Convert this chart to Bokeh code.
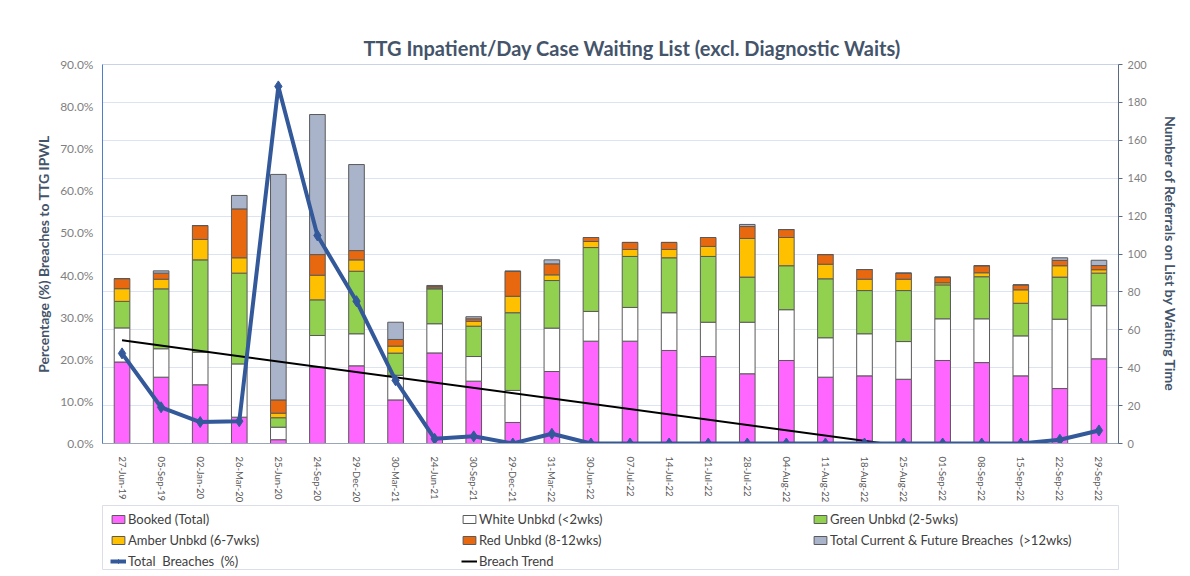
import math
from bokeh.plotting import figure
from bokeh.layouts import column
from bokeh.models import (Range1d, LinearAxis, SingleIntervalTicker, PrintfTickFormatter,
                          Legend, LegendItem, ColumnDataSource, FactorRange)
from bokeh.embed import file_html
from bokeh.resources import INLINE

dates = ["27-Jun-19", "05-Sep-19", "02-Jan-20", "26-Mar-20", "25-Jun-20", "24-Sep-20",
         "29-Dec-20", "30-Mar-21", "24-Jun-21", "30-Sep-21", "29-Dec-21", "31-Mar-22",
         "30-Jun-22", "07-Jul-22", "14-Jul-22", "21-Jul-22", "28-Jul-22", "04-Aug-22",
         "11-Aug-22", "18-Aug-22", "25-Aug-22", "01-Sep-22", "08-Sep-22", "15-Sep-22",
         "22-Sep-22", "29-Sep-22"]
booked = [43, 35, 31, 13.9, 2, 40.3, 41, 23, 47.8, 32.9, 11.1, 38, 54, 54, 49.1, 45.9,
          36.8, 43.8, 35, 35.7, 33.9, 43.8, 42.7, 35.7, 29, 44.7]
white = [18, 15, 17.2, 28.1, 6.6, 16.7, 16.9, 13, 15.4, 13, 16.9, 22.9, 15.7, 17.8, 19.9,
         18.1, 27.2, 26.8, 20.8, 22.2, 19.9, 22, 23.1, 21.1, 36.6, 28]
green = [14, 31.6, 48.7, 47.9, 5, 18.8, 33, 11.7, 18.4, 16, 41, 25.1, 33.7, 26.9, 29,
         34.7, 23.8, 23.2, 31.1, 22.8, 26.9, 17.9, 22.2, 17.2, 22.2, 17.2]
amber = [6.7, 5.1, 10.8, 8.1, 2.4, 13, 6, 3.7, 0.5, 2.6, 8.7, 3, 3.2, 3.7, 4.4, 5.3,
         20.4, 14.9, 7.7, 6, 6, 1.1, 2.1, 7.1, 6, 1.8]
red = [5.3, 3.2, 7.3, 25.8, 7, 10.9, 4.9, 3.5, 0.8, 1.3, 13.2, 5.8, 2.1, 3.7, 3.7, 4.7,
       6.3, 4.2, 5.1, 5.1, 3.2, 3.0, 3.7, 2.6, 2.8, 2.2]
grey = [0, 1.2, 0, 7.1, 119, 73.9, 45.4, 9.1, 0.5, 1.1, 0, 2.1, 0, 0, 0, 0,
        1.1, 0, 0, 0, 0, 0, 0, 0, 1.4, 2.8]
breach_pct = [21.4, 8.6, 5.1, 5.3, 84.8, 49.4, 33.8, 15.0, 1.1, 1.7, 0, 2.3, 0, 0, 0, 0,
              0, 0, 0, 0, 0, 0, 0, 0, 0.9, 3.1]
trend_x = [dates[0], dates[-1]]
trend_pct = [24.5, -6.9]

series = ["booked", "white", "green", "amber", "red", "grey"]
labels = ["Booked (Total)", "White Unbkd (<2wks)", "Green Unbkd (2-5wks)",
          "Amber Unbkd (6-7wks)", "Red Unbkd (8-12wks)",
          "Total Current & Future Breaches  (>12wks)"]
colors = ["#FF66FF", "#FFFFFF", "#92D050", "#FFC000", "#E8680F", "#A9B4CA"]

FONT = "Lato"
TXT = "#44546A"
BLUE = "#34599A"

src = ColumnDataSource(dict(dates=dates, booked=booked, white=white, green=green,
                            amber=amber, red=red, grey=grey, pct=breach_pct))


def draw(fig, **kw):
    b = fig.vbar_stack(series, x="dates", width=0.4, source=src, y_range_name="count",
                       fill_color=colors, line_color="#5a5a5a", line_width=1, **kw)
    t = fig.line(trend_x, trend_pct, line_color="black", line_width=2, **kw)
    l = fig.line("dates", "pct", source=src, line_color=BLUE, line_width=4, **kw)
    m = fig.scatter("dates", "pct", source=src, marker="diamond", size=11,
                    fill_color=BLUE, line_color=BLUE, **kw)
    return b, t, l, m


W = 1188
p = figure(x_range=FactorRange(*dates), y_range=Range1d(0, 90), width=W, height=505,
           output_backend="svg", toolbar_location=None,
           min_border_left=102, min_border_right=70, min_border_top=64, min_border_bottom=62)
p.extra_y_ranges = {"count": Range1d(0, 200)}

p.title.text = "TTG Inpatient/Day Case Waiting List (excl. Diagnostic Waits)"
p.title.align = "left"
p.title.offset = 261
p.title.text_font = FONT
p.title.text_font_size = "20px"
p.title.text_color = TXT

draw(p)

la = p.yaxis[0]
la.ticker = SingleIntervalTicker(interval=10)
la.formatter = PrintfTickFormatter(format="%.1f%%")
la.axis_label = "Percentage (%) Breaches to TTG IPWL"

ra = LinearAxis(y_range_name="count", ticker=SingleIntervalTicker(interval=20),
                axis_label="Number of Referrals on List by Waiting Time")
p.add_layout(ra, "right")

for ax in (la, ra):
    ax.axis_label_text_font = FONT
    ax.axis_label_text_font_size = "14px"
    ax.axis_label_text_font_style = "bold"
    ax.axis_label_text_color = TXT
    ax.major_label_text_font = FONT
    ax.major_label_text_color = "#7f7f7f"
    ax.minor_tick_line_color = None
    ax.major_tick_in = 0
    ax.major_tick_out = 4
la.major_label_text_font_size = "12px"
ra.major_label_text_font_size = "11px"
la.axis_line_color = "#4F7EC8"
la.major_tick_line_color = None
ra.axis_line_color = "#5a6a85"
ra.major_tick_line_color = "#5a6a85"
ra.axis_label_standoff = 12

xa = p.xaxis[0]
xa.major_label_orientation = -math.pi / 2
xa.major_label_text_font = FONT
xa.major_label_text_font_size = "9.5px"
xa.major_label_text_color = "#595959"
xa.major_tick_line_color = None
xa.axis_line_color = "#9aa5b8"
xa.major_label_standoff = 7

p.xgrid.grid_line_color = None
p.ygrid.grid_line_color = "#DCE4F2"
p.ygrid[0].y_range_name = "count"
p.ygrid[0].ticker = SingleIntervalTicker(interval=20)
p.outline_line_color = "#C9D3E6"

# legend panel: same series, renderers hidden, only the key is shown
lf = figure(x_range=FactorRange(*dates), y_range=Range1d(1000, 1001), width=W, height=66,
            output_backend="svg", toolbar_location=None,
            x_axis_location=None, y_axis_location=None,
            min_border_left=102, min_border_right=70, min_border_top=0, min_border_bottom=2)
lf.extra_y_ranges = {"count": Range1d(1000, 1001)}
lf.xgrid.grid_line_color = None
lf.ygrid.grid_line_color = None
lf.outline_line_color = "#D9DEE8"
bars, trend, bl, bm = draw(lf, visible=False)

items = [LegendItem(label=l, renderers=[r]) for l, r in zip(labels, bars)]
items.append(LegendItem(label="Total  Breaches  (%)", renderers=[bl, bm]))
items.append(LegendItem(label="Breach Trend", renderers=[trend]))
leg = Legend(items=items, location=(8, 0), orientation="horizontal", ncols=3,
             label_text_font=FONT, label_text_font_size="13px", label_text_color="#404040",
             glyph_width=16, glyph_height=10, label_width=328, label_height=16,
             spacing=5, padding=3, margin=0, label_standoff=2,
             inactive_fill_alpha=0,
             border_line_color=None, background_fill_alpha=0)
lf.add_layout(leg, "center")

open("out.html", "w").write(file_html(column(p, lf), INLINE))
